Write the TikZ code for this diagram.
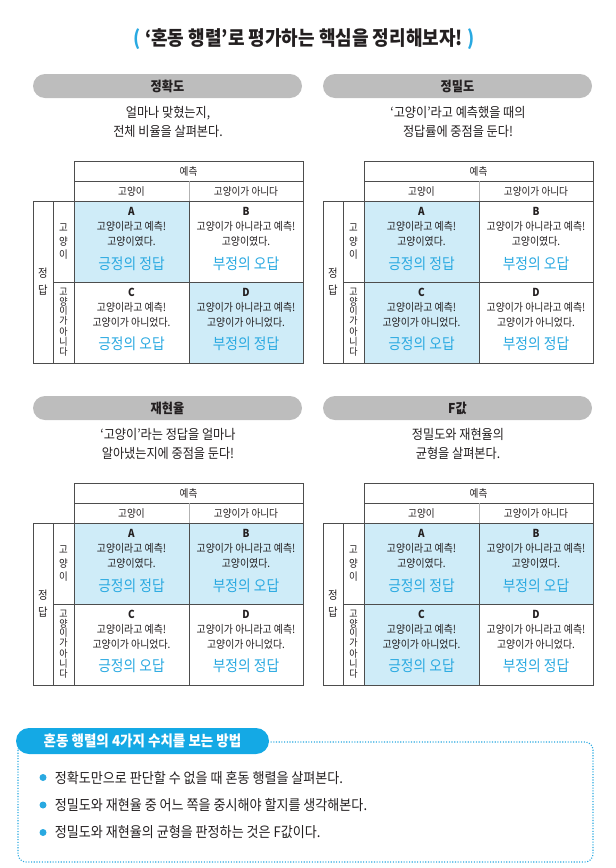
\documentclass[tikz,border=0pt]{standalone}
\usepackage{fontspec}
\setmainfont[FakeStretch=0.9]{Noto Sans CJK KR}
\usetikzlibrary{positioning}

\definecolor{pillgray}{HTML}{BDBDBD}
\definecolor{skyblue}{HTML}{29A9E1}
\definecolor{tabblue}{HTML}{14A9E5}
\definecolor{cellblue}{HTML}{CFECF8}
\definecolor{gridgray}{HTML}{4D4D4D}
\definecolor{textgray}{HTML}{231F20}

% one confusion-matrix panel: shift, name, title, subtitle, fills of A B C D
\newcommand{\cmpanel}[8]{%
  \begin{scope}[shift={(#1)}]
    \node[pill] (#2-title) at (167.5,86) {#3};
    \node[subtext] (#2-sub) at (168,121.5) {#4};
    % cells
    \fill[#5] (74,201) rectangle (189,282);
    \fill[#6] (189,201) rectangle (303,282);
    \fill[#7] (74,282) rectangle (189,363);
    \fill[#8] (189,282) rectangle (303,363);
    % grid
    \draw[grid] (74,201) -- (74,161) -- (303,161) -- (303,363) -- (33,363) -- (33,201) -- cycle;
    \draw[grid] (74,181) -- (303,181) (74,201) -- (303,201)
                (53,201) -- (53,363) (74,201) -- (74,363)
                (53,282) -- (303,282) (189,201) -- (189,363);
    \draw[grid, gray!60] (189,181) -- (189,201);
    % headers
    \node[headtext] (#2-pred) at (188.5,171) {예측};
    \node[headtext] (#2-pcat) at (131.5,191) {고양이};
    \node[headtext] (#2-pnot) at (246,191) {고양이가 아니다};
    \node[stack, font=\fontsize{11.5}{17}\selectfont] (#2-ans) at (43,282) {정\\답};
    \node[stack, font=\fontsize{10.5}{13.5}\selectfont] (#2-rcat) at (63.5,242) {고\\양\\이};
    \node[stack, font=\fontsize{10}{9.6}\selectfont] (#2-rnot) at (63.5,322) {고\\양\\이\\가\\[2pt]아\\니\\다};
    % cell texts
    \node[celltext] (#2-A) at (131.5,227) {\textbf{A}\\고양이라고 예측!\\고양이였다.};
    \node[celltext] (#2-B) at (246,227) {\textbf{B}\\고양이가 아니라고 예측!\\고양이였다.};
    \node[celltext] (#2-C) at (131.5,308) {\textbf{C}\\고양이라고 예측!\\고양이가 아니었다.};
    \node[celltext] (#2-D) at (246,308) {\textbf{D}\\고양이가 아니라고 예측!\\고양이가 아니었다.};
    \node[verdict] (#2-Av) at (131.5,264) {긍정의 정답};
    \node[verdict] (#2-Bv) at (246,264) {부정의 오답};
    \node[verdict] (#2-Cv) at (131.5,344) {긍정의 오답};
    \node[verdict] (#2-Dv) at (246,344) {부정의 정답};
  \end{scope}}

\begin{document}
\begin{tikzpicture}[
    x=1pt, y=-1pt,
    every node/.style={text=textgray},
    headline/.style={font=\fontsize{20}{24}\selectfont\bfseries},
    pill/.style={fill=pillgray, rounded corners=12pt, minimum width=269pt,
        minimum height=24pt, inner sep=0pt, font=\fontsize{13.5}{16}\selectfont\bfseries},
    subtext/.style={align=center, font=\fontsize{13.5}{19}\selectfont},
    grid/.style={draw=gridgray, line width=0.8pt},
    headtext/.style={font=\fontsize{10.7}{12}\selectfont, inner sep=0pt},
    stack/.style={align=center, inner sep=0pt},
    celltext/.style={align=center, inner sep=0pt, font=\fontsize{11}{15}\selectfont},
    verdict/.style={text=skyblue, inner sep=0pt, font=\fontsize{15.3}{17}\selectfont},
    dotbox/.style={draw=skyblue, line width=1.1pt, dash pattern=on 1.1pt off 1.6pt, rounded corners=8pt},
    howtotab/.style={fill=tabblue, text=white, rounded corners=13pt, minimum width=253pt,
        minimum height=26pt, inner sep=0pt, font=\fontsize{15}{17}\selectfont\bfseries},
    bulletdot/.style={circle, fill=skyblue, minimum size=7pt, inner sep=0pt},
    tiptext/.style={inner sep=0pt, font=\fontsize{14.5}{17}\selectfont}
]
    \useasboundingbox (0,0) rectangle (616,868);

    % ==========================
    % Title
    % ==========================
    \node[headline] (headline) at (304,39)
        {\textcolor{skyblue}{(}\ ‘혼동 행렬’로 평가하는 핵심을 정리해보자!\ \textcolor{skyblue}{)}};

    % ==========================
    % Four panels
    % ==========================
    \cmpanel{0,0}{acc}{정확도}{얼마나 맞혔는지,\\전체 비율을 살펴본다.}{cellblue}{white}{white}{cellblue}
    \cmpanel{290,0}{prec}{정밀도}{‘고양이’라고 예측했을 때의\\정답률에 중점을 둔다!}{cellblue}{white}{cellblue}{white}
    \cmpanel{0,322}{rec}{재현율}{‘고양이’라는 정답을 얼마나\\알아냈는지에 중점을 둔다!}{cellblue}{cellblue}{white}{white}
    \cmpanel{290,322}{fval}{F값}{정밀도와 재현율의\\균형을 살펴본다.}{cellblue}{cellblue}{cellblue}{white}

    % ==========================
    % How-to box
    % ==========================
    \draw[dotbox] (18,742) rectangle (593,862);
    \node[howtotab] (howto) at (142.5,741) {혼동 행렬의 4가지 수치를 보는 방법};
    \foreach \txt [count=\i] in {정확도만으로 판단할 수 없을 때 혼동 행렬을 살펴본다.,
        정밀도와 재현율 중 어느 쪽을 중시해야 할지를 생각해본다.,
        정밀도와 재현율의 균형을 판정하는 것은 F값이다.} {
        \node[bulletdot] (mark\i) at (43,750+27.5*\i) {};
        \node[tiptext, right=8pt of mark\i] (tip\i) {\txt};
    }
\end{tikzpicture}
\end{document}
